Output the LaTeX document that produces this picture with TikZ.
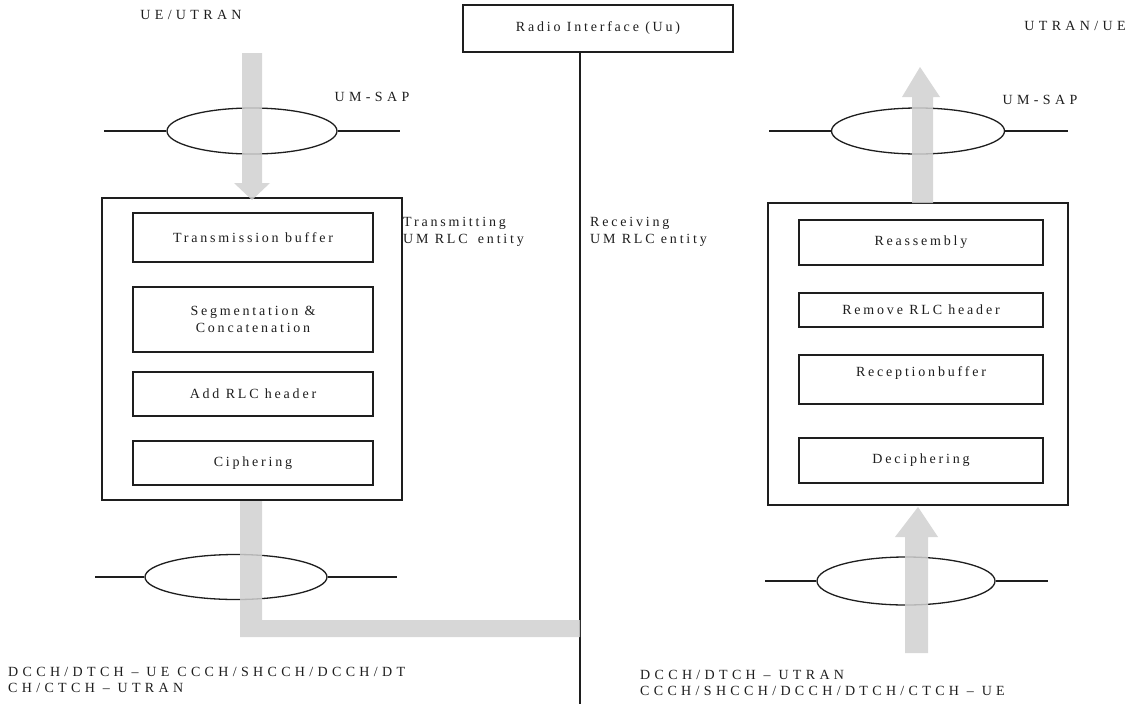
\documentclass[tikz,border=0pt]{standalone}
\usepackage{fontspec}
\setmainfont{Liberation Serif}[LetterSpace=20]
\newfontfamily\capsfont{Liberation Serif}[LetterSpace=31]
\usetikzlibrary{shapes.geometric}
\definecolor{ink}{HTML}{1E1E1E}
\definecolor{band}{HTML}{D0D0D0}
\begin{document}
\begin{tikzpicture}[x=1pt,y=-1pt,
  every node/.style={font=\fontsize{14}{17}\selectfont, text=ink},
  caps/.style={font=\capsfont\fontsize{14}{16.5}\selectfont},
  frame/.style={draw=ink, line width=1.3pt, rectangle, inner sep=0pt},
  unit/.style={frame, minimum width=240pt},
  runit/.style={frame, minimum width=244pt},
  sap/.style={draw=ink, line width=1.3pt, ellipse, inner sep=0pt},
  wire/.style={draw=ink, line width=1.3pt},
  label/.style={align=left, anchor=west, inner sep=0pt},
  flow/.style={fill=band, draw=none, fill opacity=0.85}]
\useasboundingbox (0,0) rectangle (1140,704);
\fill[white] (0,0) rectangle (1140,704);

% headings
\node[caps] (ue)   at (191,15)  {UE/UTRAN};
\node[caps] (utr)  at (1075,26) {UTRAN/UE};
\node[frame, minimum width=270pt, minimum height=47pt] (uu) at (598,28.5) {Radio Interface (Uu)};
\coordinate (uubot) at (580,704);
\draw[wire] (uu.south -| uubot) -- (uubot);

% service access points
\node[caps] (lsap) at (372,97)  {UM-SAP};
\node[caps] (rsap) at (1040,100) {UM-SAP};
\node[sap, minimum width=170pt, minimum height=46pt] (lt) at (252,131) {};
\node[sap, minimum width=173pt, minimum height=46pt] (rt) at (918,131) {};
\node[sap, minimum width=182pt, minimum height=45pt] (lb) at (236,577) {};
\node[sap, minimum width=178pt, minimum height=48pt] (rb) at (906,581) {};
\coordinate (lt1) at (104,131); \coordinate (lt2) at (400,131);
\coordinate (rt1) at (769,131); \coordinate (rt2) at (1068,131);
\coordinate (lb1) at (95,577);  \coordinate (lb2) at (397,577);
\coordinate (rb1) at (765,581); \coordinate (rb2) at (1048,581);
\draw[wire] (lt1) -- (lt.west) (lt.east) -- (lt2);
\draw[wire] (rt1) -- (rt.west) (rt.east) -- (rt2);
\draw[wire] (lb1) -- (lb.west) (lb.east) -- (lb2);
\draw[wire] (rb1) -- (rb.west) (rb.east) -- (rb2);

% transmitting entity
\node[frame, minimum width=300pt, minimum height=302pt] (tx) at (252,349) {};
\node[unit, minimum height=49pt] (tb)  at (253,237.5) {Transmission buffer};
\node[unit, minimum height=65pt, align=center] (seg) at (253,319.5) {Segmentation \&\\Concatenation};
\node[unit, minimum height=44pt] (add) at (253,394) {Add RLC header};
\node[unit, minimum height=44pt] (ciph) at (253,463) {Ciphering};
\node[label] (txl) at (403,232) {Transmitting\\UM RLC\hspace{4pt} entity};

% receiving entity
\node[frame, minimum width=300pt, minimum height=302pt] (rx) at (918,354) {};
\node[runit, minimum height=45pt] (reas) at (921,242.5) {Reassembly};
\node[runit, minimum height=34pt] (rem)  at (921,310) {Remove RLC header};
\node[runit, minimum height=49pt] (recb) at (921,379.5) {};
\node (recbt) at (921,373) {Receptionbuffer};
\node[runit, minimum height=45pt] (deci) at (921,460.5) {Deciphering};
\node[label] (rxl) at (590,232) {Receiving\\UM RLC entity};

% data flow bands
\path[flow] (242,53) -- (262,53) -- (262,183) -- (270,183) -- (252,200)
  -- (234,183) -- (242,183) -- cycle;
\path[flow] (240,501) -- (262,501) -- (262,620) -- (580,620) -- (580,637)
  -- (240,637) -- cycle;
\path[flow] (905,653) -- (928,653) -- (928,537) -- (938,537) -- (918,507)
  -- (895,537) -- (905,537) -- cycle;
\path[flow] (912,203) -- (933,203) -- (933,97) -- (940,97) -- (920,67)
  -- (902,97) -- (912,97) -- cycle;

% logical channels
\node[label, caps] (lch) at (8,680) {DCCH/DTCH \textendash{} UE CCCH/SHCCH/DCCH/DT\\CH/CTCH \textendash{} UTRAN};
\node[label, caps] (rch) at (640,683) {DCCH/DTCH \textendash{} UTRAN\\CCCH/SHCCH/DCCH/DTCH/CTCH \textendash{} UE};
\end{tikzpicture}
\end{document}
